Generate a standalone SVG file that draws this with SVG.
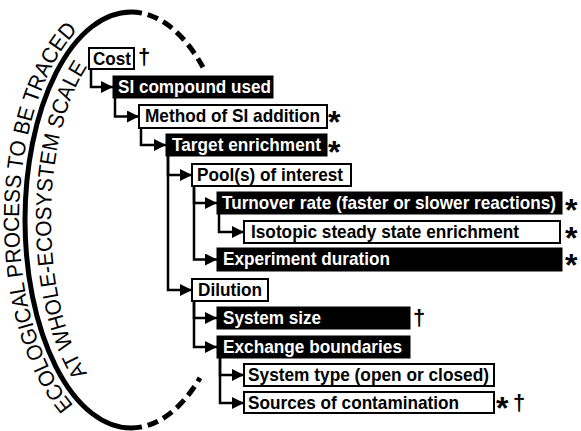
<svg xmlns="http://www.w3.org/2000/svg" width="581" height="431" viewBox="0 0 581 431">
<style>
.bw{fill:#fff;stroke:#000;stroke-width:2}
.bb{fill:#000;stroke:#000;stroke-width:1}
.tw{font-family:"Liberation Sans",Arial,sans-serif;font-weight:bold;font-size:18.5px;fill:#000}
.tb{font-family:"Liberation Sans",Arial,sans-serif;font-weight:bold;font-size:18.5px;fill:#fff}
.ast{font-family:"Liberation Sans",Arial,sans-serif;font-weight:bold;font-size:32px;fill:#000}
.dag{font-family:"Liberation Sans",Arial,sans-serif;font-weight:bold;font-size:22px;fill:#000}
.arc{font-family:"Liberation Sans",Arial,sans-serif;font-size:22px;fill:#000}
.conn path{fill:none;stroke:#000;stroke-width:2.5;marker-end:url(#ah)}
.ell{fill:none;stroke:#000;stroke-width:5}
.dash{stroke-dasharray:11 6}
</style>
<defs>
<marker id="ah" markerWidth="12" markerHeight="12" refX="12" refY="6" orient="auto" markerUnits="userSpaceOnUse">
<path d="M0,0 L12,6 L0,12 Z" fill="#000"/>
</marker>
<path id="outerP" d="M 131,436 A 112 216 0 0 1 131,4"/>
<path id="innerP" d="M 131,403 A 80 183 0 0 1 131,37"/>
</defs>

<g id="scope">
<path class="ell" d="M 131,12 A 106 208 0 0 0 131,428"/>
<path class="ell dash" d="M 131,12 A 106 208 0 0 1 203,67.3"/>
<path class="ell dash" d="M 131,428 A 106 208 0 0 0 200,377.9"/>
<text class="arc"><textPath href="#outerP" startOffset="67" textLength="400" lengthAdjust="spacingAndGlyphs">ECOLOGICAL PROCESS TO BE TRACED</textPath></text>
<text class="arc"><textPath href="#innerP" startOffset="55" textLength="319" lengthAdjust="spacingAndGlyphs">AT WHOLE-ECOSYSTEM SCALE</textPath></text>
</g>

<g class="conn" id="connectors">
<path d="M 91,69 V 87 H 113"/>
<path d="M 115,98 V 116.5 H 139"/>
<path d="M 141,128 V 145 H 166"/>
<path d="M 168,156 V 175 H 192"/>
<path d="M 168,156 V 290 H 192"/>
<path d="M 194,186 V 203 H 217"/>
<path d="M 194,186 V 259.5 H 217"/>
<path d="M 219,214 V 232 H 244"/>
<path d="M 194,301 V 318 H 217"/>
<path d="M 194,301 V 347 H 217"/>
<path d="M 220,358 V 375 H 244"/>
<path d="M 220,358 V 403 H 244"/>
</g>

<g id="cost">
<rect class="bw" x="89" y="48" width="45" height="21"/>
<text class="tw" x="93" y="65" textLength="38" lengthAdjust="spacingAndGlyphs">Cost</text>
<text class="dag" x="138" y="64">†</text>
</g>
<g id="si-compound">
<rect class="bb" x="113" y="76" width="160" height="22"/>
<text class="tb" x="118" y="93" textLength="153" lengthAdjust="spacingAndGlyphs">SI compound used</text>
</g>
<g id="method">
<rect class="bw" x="139" y="105" width="188" height="23"/>
<text class="tw" x="145" y="122" textLength="175" lengthAdjust="spacingAndGlyphs">Method of SI addition</text>
<text class="ast" x="328" y="133">*</text>
</g>
<g id="target">
<rect class="bb" x="166" y="134" width="161" height="22"/>
<text class="tb" x="172" y="151" textLength="149" lengthAdjust="spacingAndGlyphs">Target enrichment</text>
<text class="ast" x="328" y="163">*</text>
</g>
<g id="pool">
<rect class="bw" x="192" y="164" width="159" height="22"/>
<text class="tw" x="197" y="181" textLength="146" lengthAdjust="spacingAndGlyphs">Pool(s) of interest</text>
</g>
<g id="turnover">
<rect class="bb" x="217" y="192" width="345" height="22"/>
<text class="tb" x="222" y="209" textLength="334" lengthAdjust="spacingAndGlyphs">Turnover rate (faster or slower reactions)</text>
<text class="ast" x="565" y="221">*</text>
</g>
<g id="isotopic">
<rect class="bw" x="244" y="221" width="316" height="22"/>
<text class="tw" x="251" y="238" textLength="268" lengthAdjust="spacingAndGlyphs">Isotopic steady state enrichment</text>
<text class="ast" x="565" y="249">*</text>
</g>
<g id="experiment">
<rect class="bb" x="217" y="248" width="345" height="23"/>
<text class="tb" x="223" y="265" textLength="167" lengthAdjust="spacingAndGlyphs">Experiment duration</text>
<text class="ast" x="565" y="276">*</text>
</g>
<g id="dilution">
<rect class="bw" x="192" y="279" width="76" height="22"/>
<text class="tw" x="198" y="296" textLength="64" lengthAdjust="spacingAndGlyphs">Dilution</text>
</g>
<g id="system-size">
<rect class="bb" x="217" y="307" width="193" height="22"/>
<text class="tb" x="223" y="324" textLength="98" lengthAdjust="spacingAndGlyphs">System size</text>
<text class="dag" x="413" y="325">†</text>
</g>
<g id="exchange">
<rect class="bb" x="217" y="336" width="193" height="22"/>
<text class="tb" x="223" y="353" textLength="179" lengthAdjust="spacingAndGlyphs">Exchange boundaries</text>
</g>
<g id="system-type">
<rect class="bw" x="244" y="364" width="250" height="22"/>
<text class="tw" x="248" y="381" textLength="241" lengthAdjust="spacingAndGlyphs">System type (open or closed)</text>
</g>
<g id="sources">
<rect class="bw" x="244" y="392" width="250" height="21"/>
<text class="tw" x="248" y="409" textLength="211" lengthAdjust="spacingAndGlyphs">Sources of contamination</text>
<text class="ast" x="496" y="419">*</text>
<text class="dag" x="513" y="410">†</text>
</g>
</svg>
